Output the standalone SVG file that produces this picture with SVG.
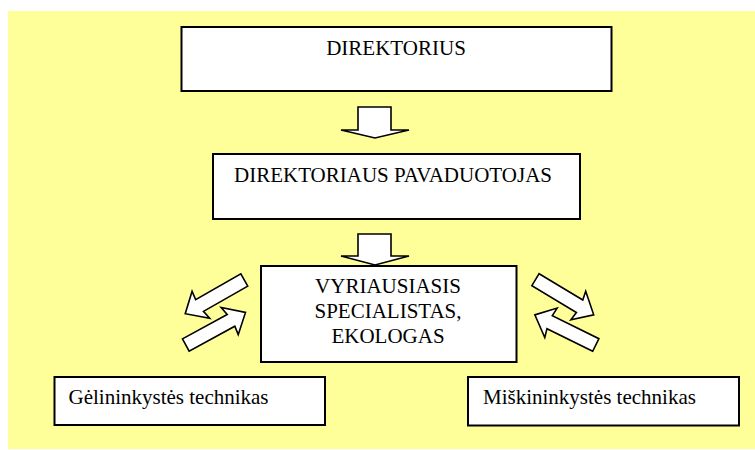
<svg xmlns="http://www.w3.org/2000/svg" width="755" height="450" viewBox="0 0 755 450">
<style>
.box{fill:#ffffff;stroke:#000000;stroke-width:2}
.arr{fill:#ffffff;stroke:#000000;stroke-width:1.6;stroke-linejoin:miter}
text{font-family:"Liberation Serif","Times New Roman",serif;font-size:21px;fill:#000000}
.c{text-anchor:middle}
</style>
<defs>
<polygon id="sidearrow" points="0,-7 51,-7 49,-16 68,0 51,16 52,7 0,7"/>
</defs>
<rect x="0" y="0" width="755" height="450" fill="#ffffff"/>
<rect x="8" y="11" width="747" height="438" fill="#ffff99"/>
<g id="connectors">
<polygon class="arr" points="358,107 391,107 391,130 409,130 375,138 341,130 358,130"/>
<polygon class="arr" points="358,234 391,234 391,256 409,256 375,265 341,256 358,256"/>
<use href="#sidearrow" class="arr" transform="translate(244.3,280) rotate(150.3)"/>
<use href="#sidearrow" class="arr" transform="translate(185.8,345) rotate(-28.6)"/>
<use href="#sidearrow" class="arr" transform="translate(535.5,279.7) rotate(31.1)"/>
<use href="#sidearrow" class="arr" transform="translate(595.8,345) rotate(-153.7)"/>
</g>
<g id="direktorius">
<rect class="box" x="181.5" y="27" width="430" height="64"/>
<text class="c" x="396" y="55">DIREKTORIUS</text>
</g>
<g id="pavaduotojas">
<rect class="box" x="213" y="154" width="367" height="65"/>
<text class="c" x="393" y="181.5">DIREKTORIAUS PAVADUOTOJAS</text>
</g>
<g id="specialistas">
<rect class="box" x="261" y="266" width="255.5" height="96"/>
<text class="c" x="388" y="293">VYRIAUSIASIS</text>
<text class="c" x="388" y="318">SPECIALISTAS,</text>
<text class="c" x="388" y="343">EKOLOGAS</text>
</g>
<g id="gelininkystes">
<rect class="box" x="54.5" y="377" width="270.5" height="48"/>
<text x="68.5" y="404">Gėlininkystės technikas</text>
</g>
<g id="miskininkystes">
<rect class="box" x="468" y="377" width="271" height="48.5"/>
<text x="483" y="404">Miškininkystės technikas</text>
</g>
</svg>
